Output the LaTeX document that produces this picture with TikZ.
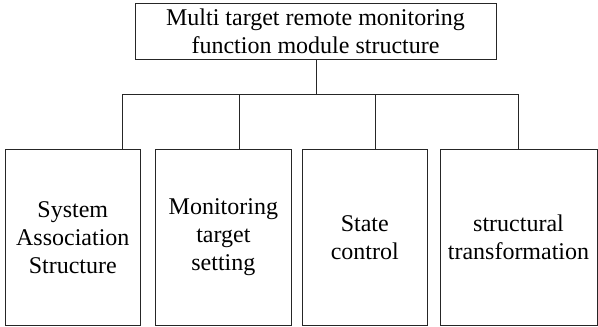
\documentclass[tikz,border=0pt]{standalone}
\usepackage{fontspec}
\setmainfont{Liberation Serif}
\begin{document}
\begin{tikzpicture}[x=1pt,y=-1pt,
  box/.style={draw=black!85, line width=1pt, inner sep=0pt, align=center,
    font=\fontsize{24}{28}\selectfont},
  link/.style={draw=black!85, line width=1pt}]
\useasboundingbox (0,0) rectangle (598,327);
% root
\node[box, minimum width=361pt, minimum height=56pt] (top) at (315.5,31.3)
  {Multi target remote monitoring\\function module structure};
% leaves
\node[box, minimum width=135pt, minimum height=176pt] (b1) at (72.8,237.6)
  {System\\Association\\Structure};
\node[box, minimum width=135.3pt, minimum height=176pt] (b2) at (223.4,237.6)
  {Monitoring\\target\\setting};
\node[box, minimum width=125pt, minimum height=176pt] (b3) at (364.8,237.6)
  {State\\control};
\node[box, minimum width=157pt, minimum height=176pt] (b4) at (518.5,237.6)
  {structural\\transformation};
% bus junctions
\coordinate (j0) at (316,94.5);
\coordinate (j1) at (122.3,94.5);
\coordinate (j2) at (239.6,94.5);
\coordinate (j3) at (375.8,94.5);
\coordinate (j4) at (518.7,94.5);
\draw[link] (j0 |- top.south) -- (j0);
\draw[link] (j1) -- (j4);
\draw[link] (j1) -- (j1 |- b1.north);
\draw[link] (j2) -- (j2 |- b2.north);
\draw[link] (j3) -- (j3 |- b3.north);
\draw[link] (j4) -- (j4 |- b4.north);
\end{tikzpicture}
\end{document}
